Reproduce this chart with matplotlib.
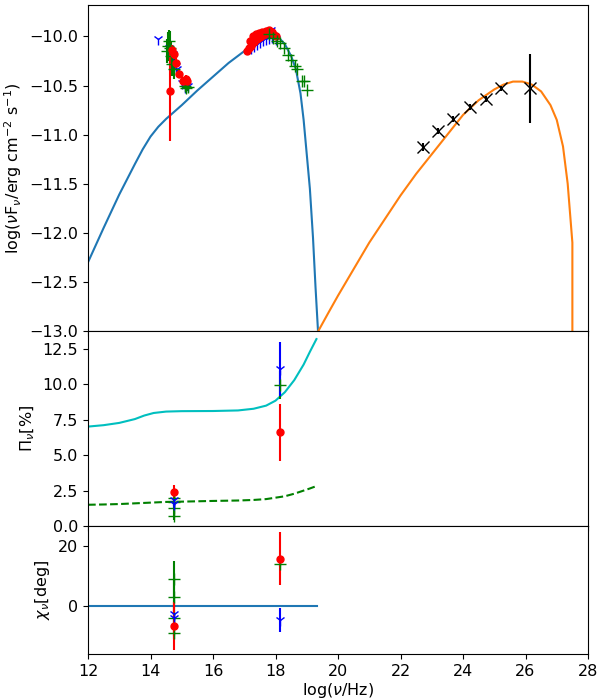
import matplotlib
matplotlib.use('Agg')
import matplotlib.pyplot as plt

# synchrotron model (blue) and inverse-Compton model (orange)
sync_x = [12.0, 12.5, 13.0, 13.5, 13.75, 14.0, 14.25, 14.5, 14.75, 15.0, 15.5, 16.0, 16.5,
          17.0, 17.4, 17.7, 17.9, 18.1, 18.3, 18.5, 18.65, 18.8, 18.9, 19.0, 19.1, 19.2,
          19.28, 19.36]
sync_y = [-12.30, -11.95, -11.61, -11.30, -11.15, -11.02, -10.92, -10.84, -10.77, -10.70,
          -10.55, -10.41, -10.27, -10.15, -10.05, -9.99, -9.98, -10.01, -10.08, -10.20,
          -10.33, -10.58, -10.85, -11.20, -11.55, -12.05, -12.55, -13.00]
ic_x = [19.37, 19.7, 20.0, 20.5, 21.0, 21.5, 22.0, 22.5, 23.0, 23.5, 24.0, 24.5, 25.0,
        25.3, 25.6, 25.9, 26.2, 26.5, 26.8, 27.0, 27.2, 27.35, 27.45, 27.5, 27.5]
ic_y = [-13.0, -12.81, -12.64, -12.37, -12.10, -11.86, -11.62, -11.40, -11.20, -11.00,
        -10.80, -10.65, -10.54, -10.49, -10.46, -10.46, -10.49, -10.56, -10.70, -10.85,
        -11.12, -11.50, -11.90, -12.10, -13.0]

# optical data
opt_g_x = [14.52, 14.56, 14.60, 14.63, 14.66, 14.70, 14.74, 15.10, 15.15, 15.20]
opt_g_y = [-10.15, -10.10, -10.05, -10.12, -10.20, -10.28, -10.33, -10.50, -10.53, -10.52]
opt_g_err = [0.12, 0.15, 0.12, 0.18, 0.15, 0.12, 0.10, 0.04, 0.04, 0.04]
opt_b_x = [14.23, 14.60, 14.72, 14.80, 14.85, 15.00, 15.10, 15.20]
opt_b_y = [-10.03, -10.12, -10.18, -10.30, -10.33, -10.47, -10.52, -10.50]
opt_r_x = [14.62, 14.68, 14.75, 14.80, 14.90, 15.05, 15.12, 15.18]
opt_r_y = [-10.56, -10.14, -10.18, -10.27, -10.38, -10.45, -10.43, -10.45]
opt_r_err = [0.50, 0.05, 0.05, 0.05, 0.04, 0.04, 0.04, 0.04]

# X-ray data
xr_r_x = [17.10, 17.15, 17.20, 17.25, 17.30, 17.35, 17.40, 17.45, 17.50, 17.55, 17.60,
          17.65, 17.70, 17.75, 17.80, 17.85, 17.90, 17.95, 18.00,
          17.18, 17.28, 17.38, 17.48, 17.58, 17.68, 17.78, 17.88]
xr_r_y = [-10.15, -10.12, -10.10, -10.07, -10.06, -10.04, -10.03, -10.02, -10.01, -10.00,
          -9.99, -9.98, -9.97, -9.96, -9.95, -9.96, -9.97, -9.99, -10.00,
          -10.05, -10.00, -9.98, -9.97, -9.95, -9.94, -9.93, -9.95]
xr_b_x = [17.20, 17.30, 17.40, 17.50, 17.60, 17.70, 17.80, 17.90, 18.00,
          17.45, 17.65, 17.85]
xr_b_y = [-10.12, -10.10, -10.08, -10.06, -10.04, -10.03, -10.02, -10.01, -10.03,
          -9.99, -9.96, -9.93]
xr_g_x = [17.80, 17.93, 18.05, 18.14, 18.28, 18.41, 18.50, 18.62, 18.68, 18.84, 18.92, 19.00]
xr_g_y = [-9.98, -10.02, -10.05, -10.07, -10.12, -10.19, -10.24, -10.30, -10.33, -10.45,
          -10.45, -10.55]

# gamma-ray data
gam_x = [22.71, 23.21, 23.69, 24.22, 24.73, 25.21, 26.14]
gam_y = [-11.13, -10.96, -10.84, -10.72, -10.64, -10.53, -10.53]
gam_err = [0.04, 0.03, 0.03, 0.03, 0.03, 0.03, 0.35]

# polarisation degree models and data
pol_x = [12.0, 12.5, 13.0, 13.5, 13.8, 14.1, 14.5, 15.0, 16.0, 16.8, 17.3, 17.7, 18.0,
         18.3, 18.6, 18.9, 19.1, 19.31]
pol_sync = [7.02, 7.12, 7.28, 7.55, 7.80, 7.98, 8.08, 8.11, 8.12, 8.16, 8.28, 8.50, 8.85,
            9.45, 10.30, 11.40, 12.30, 13.20]
pol_low = [1.50, 1.52, 1.55, 1.60, 1.63, 1.66, 1.70, 1.72, 1.77, 1.80, 1.84, 1.90, 2.00,
           2.10, 2.28, 2.50, 2.65, 2.82]
pi_g_x = [14.75, 14.75, 14.75, 14.75, 18.15]
pi_g_y = [1.95, 1.72, 1.30, 0.71, 9.96]
pi_g_err = [0.3, 0.3, 0.3, 0.3, 1.0]
pi_b_x = [14.75, 14.75, 18.15]
pi_b_y = [1.85, 1.55, 11.07]
pi_b_err = [0.3, 0.3, 1.9]
pi_r_x = [14.75, 18.15]
pi_r_y = [2.43, 6.62]
pi_r_err = [0.45, 2.0]
pi_ticks = [0.0, 2.5, 5.0, 7.5, 10.0, 12.5]

# polarisation angle
chi_line_x = [12.0, 19.32]
chi_line_y = [0.0, 0.0]
chi_g_x = [14.75, 14.75, 14.75, 14.75, 18.15]
chi_g_y = [8.9, 3.0, -3.9, -8.9, 13.9]
chi_g_err = [6.0, 6.0, 6.0, 2.0, 1.0]
chi_b_x = [14.75, 14.75, 18.15]
chi_b_y = [-2.8, -3.9, -4.6]
chi_b_err = [1.5, 1.5, 4.0]
chi_r_x = [14.75, 18.15]
chi_r_y = [-6.7, 15.8]
chi_r_err = [8.0, 8.9]

FS = 11.5

fig = plt.figure(figsize=(6.01, 6.99), dpi=100)
L, W = 88 / 601, 500 / 601
ax1 = fig.add_axes([L, 1 - 331 / 699, W, 326 / 699])
ax2 = fig.add_axes([L, 1 - 526 / 699, W, 195 / 699], sharex=ax1)
ax3 = fig.add_axes([L, 1 - 654 / 699, W, 128 / 699], sharex=ax1)

# --- SED panel
ax1.plot(sync_x, sync_y, color='C0')
ax1.plot(ic_x, ic_y, color='C1')
ax1.errorbar(opt_g_x, opt_g_y, yerr=opt_g_err, fmt='+', color='g', ms=8)
ax1.plot(opt_b_x, opt_b_y, '1', color='b', ms=8)
ax1.errorbar(opt_r_x, opt_r_y, yerr=opt_r_err, fmt='o', color='r', ms=5)
ax1.plot(xr_b_x, xr_b_y, '1', color='b', ms=8)
ax1.plot(xr_r_x, xr_r_y, 'o', color='r', ms=5)
ax1.plot(xr_g_x, xr_g_y, '+', color='g', ms=8)
ax1.errorbar(gam_x, gam_y, yerr=gam_err, fmt='x', color='k', ms=8)
ax1.set_ylim(-13.0, -9.68)
ax1.set_ylabel(r'log($\nu$F$_\nu$/erg cm$^{-2}$ s$^{-1}$)', fontsize=FS)
ax1.tick_params(labelbottom=False, labelsize=FS)

# --- polarisation degree panel
ax2.plot(pol_x, pol_sync, color='c')
ax2.plot(pol_x, pol_low, '--', color='g')
ax2.errorbar(pi_g_x, pi_g_y, yerr=pi_g_err, fmt='+', color='g', ms=8)
ax2.errorbar(pi_b_x, pi_b_y, yerr=pi_b_err, fmt='1', color='b', ms=8)
ax2.errorbar(pi_r_x, pi_r_y, yerr=pi_r_err, fmt='o', color='r', ms=5)
ax2.set_ylim(0, 13.77)
ax2.set_yticks(pi_ticks)
ax2.set_ylabel(r'$\Pi_\nu$[%]', fontsize=FS)
ax2.tick_params(labelbottom=False, labelsize=FS)

# --- polarisation angle panel
ax3.plot(chi_line_x, chi_line_y, color='C0')
ax3.errorbar(chi_g_x, chi_g_y, yerr=chi_g_err, fmt='+', color='g', ms=8)
ax3.errorbar(chi_b_x, chi_b_y, yerr=chi_b_err, fmt='1', color='b', ms=8)
ax3.errorbar(chi_r_x, chi_r_y, yerr=chi_r_err, fmt='o', color='r', ms=5)
ax3.set_ylim(-16.0, 26.7)
ax3.set_yticks([0, 20])
ax3.set_ylabel(r'$\chi_\nu$[deg]', fontsize=FS)
ax3.set_xlabel(r'log($\nu$/Hz)', fontsize=FS, labelpad=2)
ax3.tick_params(labelsize=FS)

ax1.set_xlim(12, 28)
ax1.set_xticks(range(12, 29, 2))

fig.savefig('out.png', dpi=100)
